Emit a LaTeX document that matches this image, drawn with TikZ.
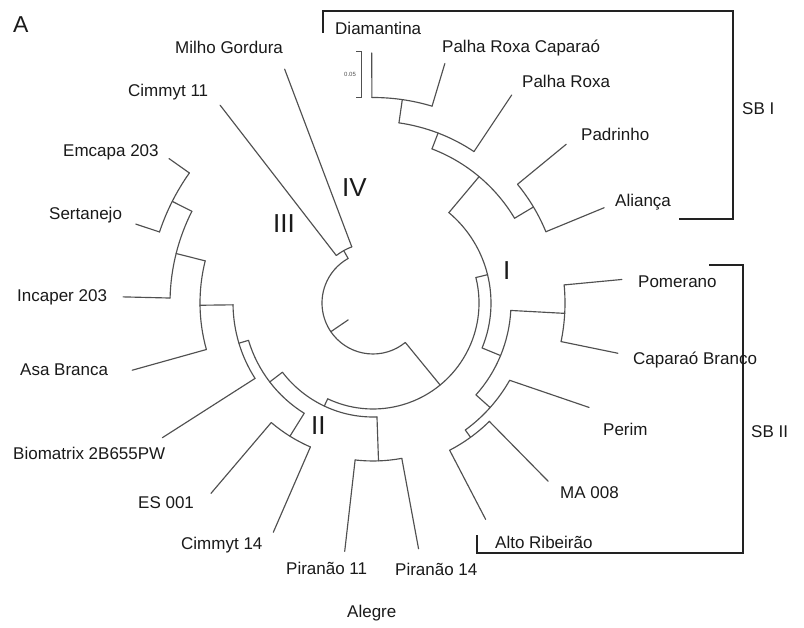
\documentclass[tikz,border=0pt]{standalone}
\usepackage{fontspec}
\setmainfont{Liberation Sans}
\definecolor{treegray}{HTML}{505050}
\definecolor{txt}{HTML}{1A1A1A}
\definecolor{brkcol}{HTML}{222222}
\newcommand{\trrad}[3]{\draw[tree] (#1:#2pt) -- (#1:#3pt);}
\newcommand{\trarc}[3]{\draw[tree] (#2:#1pt) arc[start angle=#2, end angle=#3, radius=#1pt];}
\begin{document}
\begin{tikzpicture}[x=1pt,y=1pt,
  tree/.style={draw=treegray, line width=1.15pt, line cap=round},
  lab/.style={font=\fontsize{17}{20}\selectfont, text=txt, inner sep=0pt, anchor=base west},
  roman/.style={font=\fontsize{26}{30}\selectfont, text=txt, inner sep=0pt, anchor=base west},
  brk/.style={draw=brkcol, line width=1.2pt}]
\useasboundingbox (0,0) rectangle (804,628);
\fill[white] (0,0) rectangle (804,628);
\begin{scope}[shift={(373,325)}]
% root
\trrad{-145.75}{30}{51}
\trarc{51}{-50.7}{-240.8}
% III / IV
\trrad{-240.8}{51}{60}
\trarc{60}{-232.3}{-249.3}
\trrad{-232.3}{60}{250}
\trrad{-249.3}{60}{250}
% I + II
\trrad{-50.7}{51}{106}
\trarc{106}{13.89}{-115.3}
% I
\trrad{13.89}{106}{118}
\trarc{118}{49.98}{-22.4}
% SB I
\trrad{49.98}{118}{165}
\trarc{165}{69.05}{30.9}
\trrad{69.05}{165}{182}
\trarc{182}{81.8}{56.3}
\trrad{81.8}{182}{205.5}
\trarc{205.5}{90.3}{73.3}
\trrad{90.3}{205.5}{250}
\trrad{73.3}{205.5}{250}
\trrad{56.3}{182}{250}
\trrad{30.9}{165}{187}
\trarc{187}{39.4}{22.4}
\trrad{39.4}{187}{250}
\trrad{22.4}{187}{250}
% SB II
\trrad{-22.4}{118}{138}
\trarc{138}{-3.1}{-41.75}
\trrad{-3.1}{138}{192}
\trarc{192}{5.4}{-11.6}
\trrad{5.4}{192}{250}
\trrad{-11.6}{192}{250}
\trrad{-41.75}{138}{157}
\trarc{157}{-29.5}{-54}
\draw[tree] (-29.5:157pt) -- (-25.8:240pt);
\trrad{-54}{157}{166}
\trarc{166}{-45.5}{-62.5}
\trrad{-45.5}{166}{250}
\trrad{-62.5}{166}{244}
% II
\trrad{-115.3}{106}{114}
\trarc{114}{-88}{-142.6}
\trrad{-88}{114}{158}
\trarc{158}{-79.5}{-96.5}
\trrad{-79.5}{158}{250}
\trrad{-96.5}{158}{250}
\trrad{-142.6}{114}{130}
\trarc{130}{-121.95}{-163.3}
\trrad{-121.95}{130}{157}
\trarc{157}{-113.5}{-130.4}
\trrad{-113.5}{157}{250}
\trrad{-130.4}{157}{250}
\trrad{-163.3}{130}{140}
\trarc{140}{-147.4}{-179.25}
\trrad{-147.4}{140}{250}
\trrad{-179.25}{140}{173}
\trarc{173}{-164.4}{-194.1}
\trrad{-164.4}{173}{250}
\trrad{-194.1}{173}{203}
\trarc{203}{-181.4}{-206.85}
\trrad{-181.4}{203}{250}
\trrad{-206.85}{203}{225}
\trarc{225}{-198.4}{-215.3}
\trrad{-198.4}{225}{250}
\trrad{-215.3}{225}{250}
\end{scope}
% scale bar
\draw[draw=treegray, line width=1pt] (356,576.3) -- (361,576.3) -- (361,530.3) -- (356,530.3);
\node[font=\fontsize{6}{7}\selectfont, text=treegray, inner sep=0pt] (scale) at (350,554) {0.05};
% brackets
\draw[brk] (323,595) -- (323,617) -- (733,617) -- (733,409) -- (679,409);
\draw[brk] (709,363) -- (743,363) -- (743,75) -- (477,75) -- (477,93);
% labels
\node[lab] (dia) at (335,593.5) {Diamantina};
\node[lab] (prc) at (442,575) {Palha Roxa Caparaó};
\node[lab] (pr) at (522,540) {Palha Roxa};
\node[lab] (pad) at (581,487) {Padrinho};
\node[lab] (ali) at (615,421) {Aliança};
\node[lab] (sb1) at (742,513) {SB I};
\node[lab] (pom) at (638,340) {Pomerano};
\node[lab] (cap) at (633,263) {Caparaó Branco};
\node[lab] (per) at (603,192) {Perim};
\node[lab] (ma) at (560,129) {MA 008};
\node[lab] (alto) at (495,79) {Alto Ribeirão};
\node[lab] (sb2) at (751,190) {SB II};
\node[lab] (p14) at (395,52) {Piranão 14};
\node[lab] (p11) at (286,53) {Piranão 11};
\node[lab] (c14) at (181,78) {Cimmyt 14};
\node[lab] (es) at (138,119) {ES 001};
\node[lab] (bio) at (13,168) {Biomatrix 2B655PW};
\node[lab] (asa) at (20,252) {Asa Branca};
\node[lab] (inc) at (17,326) {Incaper 203};
\node[lab] (sert) at (49,408) {Sertanejo};
\node[lab] (emc) at (63,471) {Emcapa 203};
\node[lab] (c11) at (128,531) {Cimmyt 11};
\node[lab] (mil) at (175,574) {Milho Gordura};
\node[lab] (alegre) at (347,10) {Alegre};
\node[lab, font=\fontsize{23}{26}\selectfont] (A) at (13,595) {A};
\node[roman] (rIV) at (342,431) {IV};
\node[roman] (rIII) at (273,395) {III};
\node[roman] (rI) at (503,348) {I};
\node[roman] (rII) at (311,193) {II};
\end{tikzpicture}
\end{document}
